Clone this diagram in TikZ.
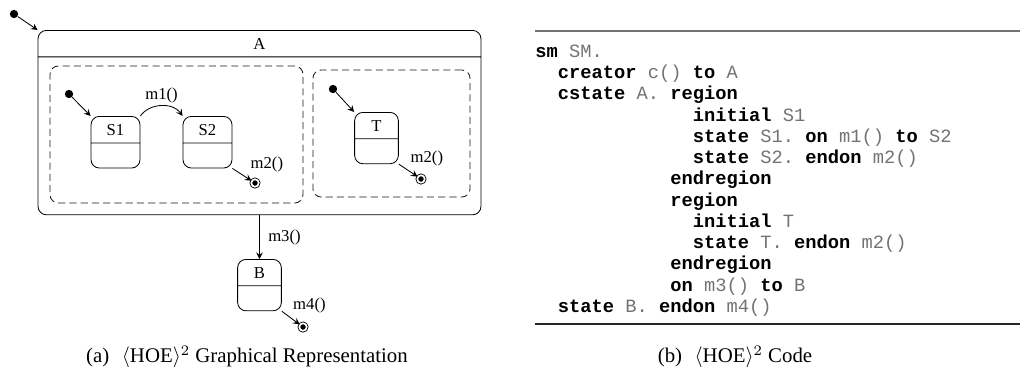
\documentclass[tikz,border=0pt]{standalone}
\usepackage{fontspec}
\setmainfont{Liberation Serif}
\setmonofont{Liberation Mono}
\usetikzlibrary{shapes.multipart, arrows}
\definecolor{idgray}{gray}{0.45}
\newcommand{\kw}[1]{\textbf{#1}}
\newcommand{\id}[1]{\textcolor{idgray}{#1}}
\tikzstyle{state}=
[
	rectangle split
	, rectangle split parts=2
	, rectangle split empty part height=2pt
	, rounded corners=4pt
	, text width=17.5pt
	, align=center
	, inner xsep=3pt
	, inner ysep=3.5pt
	, draw=black
	, fill=white
	, font=\footnotesize
]
\tikzstyle{cstate}=
[
	state
	, text width=206.6pt
	, rectangle split empty part height=68.4pt
]
\tikzstyle{regionbox}=
[
	rectangle
	, rounded corners=4pt
	, draw=black!90
	, dash pattern=on 3.4pt off 2pt
]
\tikzstyle{startdot}=[circle, fill=black, inner sep=0pt, minimum size=4pt]
\tikzstyle{enddot}=[circle, draw=black, fill=black, inner sep=0pt, minimum size=3.6pt, double=white, double distance=0.8pt]
\tikzstyle{arrow} = [->,>=stealth]
\tikzstyle{lbl} = [font=\footnotesize, inner sep=1pt]

\begin{document}
\begin{tikzpicture}[x=0.48pt, y=-0.48pt]
\useasboundingbox (0,0) rectangle (1020,375);

% composite state A with its two regions
\node(i0)[startdot] at (14,14) {};
\node(A)[cstate, anchor=north] at (259.5,30) {A};
\node(r1)[regionbox, minimum width=121.4pt, minimum height=65.8pt] at (176.5,134.5) {};
\node(r2)[regionbox, minimum width=75.4pt, minimum height=61pt] at (391.5,133.5) {};
\draw[arrow](i0)--(A.north west);

% region 1
\node(i1)[startdot] at (69,94) {};
\node(s1)[state, anchor=north] at (115.5,116) {S1};
\node(s2)[state, anchor=north] at (207.5,116) {S2};
\node(f1)[enddot] at (255,183) {};
\draw[arrow](i1)--(s1.north west);
\draw[arrow](s1.north east) to[bend left=55] node[lbl, above]{m1()} (s2.north west);
\draw[arrow](s2.south east)--node[lbl, above right, xshift=3pt]{m2()}(f1);

% region 2
\node(i2)[startdot] at (333,89) {};
\node(t)[state, text width=15pt, anchor=north] at (376.5,112) {T};
\node(f2)[enddot] at (421,179) {};
\draw[arrow](i2)--(t.north west);
\draw[arrow](t.south east)--node[lbl, above right, yshift=1pt]{m2()}(f2);

% state B
\node(b)[state, text width=15pt, anchor=north] at (259.5,259) {B};
\node(f3)[enddot] at (303,327) {};
\draw[arrow](A.south)--node[lbl, right=3pt]{m3()}(b.north);
\draw[arrow](b.south east)--node[lbl, above right, yshift=1pt]{m4()}(f3);

\node(capa) at (247,357) {(a)\hspace{0.6em}$\langle$HOE$\rangle^2$ Graphical Representation};

% code listing
\draw[black!55, line width=0.65pt] (535,31) -- (1020,31);
\node(code)[anchor=north west, align=left, inner sep=0pt, font={\fontsize{9}{10.2}\selectfont\ttfamily}] at (535,44.5) {%
\kw{sm} \id{SM.}\\
\hspace*{1.2em}\kw{creator} \id{c()} \kw{to} \id{A}\\
\hspace*{1.2em}\kw{cstate} \id{A.} \kw{region}\\
\hspace*{8.4em}\kw{initial} \id{S1}\\
\hspace*{8.4em}\kw{state} \id{S1.} \kw{on} \id{m1()} \kw{to} \id{S2}\\
\hspace*{8.4em}\kw{state} \id{S2.} \kw{endon} \id{m2()}\\
\hspace*{7.2em}\kw{endregion}\\
\hspace*{7.2em}\kw{region}\\
\hspace*{8.4em}\kw{initial} \id{T}\\
\hspace*{8.4em}\kw{state} \id{T.} \kw{endon} \id{m2()}\\
\hspace*{7.2em}\kw{endregion}\\
\hspace*{7.2em}\kw{on} \id{m3()} \kw{to} \id{B}\\
\hspace*{1.2em}\kw{state} \id{B.} \kw{endon} \id{m4()}};
\draw[black!85, line width=0.65pt] (535,324) -- (1020,324);

\node(capb) at (735,357) {(b)\hspace{0.6em}$\langle$HOE$\rangle^2$ Code};

\end{tikzpicture}
\end{document}
